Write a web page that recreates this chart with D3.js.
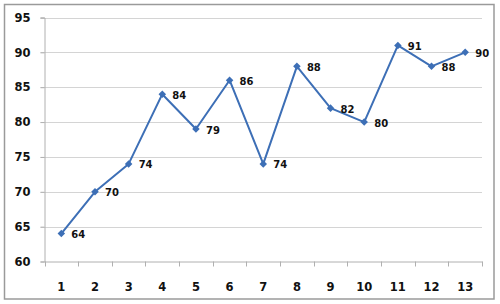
<!DOCTYPE html>
<html>
<head>
<meta charset="utf-8">
<script src="https://cdn.jsdelivr.net/npm/d3@7"></script>
<style>
  html, body { margin: 0; padding: 0; background: #fff; }
  svg { display: block; }
</style>
</head>
<body>
<svg id="chart" width="500" height="304"></svg>
<script>
const categories = ["1","2","3","4","5","6","7","8","9","10","11","12","13"];
const values = [64, 70, 74, 84, 79, 86, 74, 88, 82, 80, 91, 88, 90];
const yTicks = [60, 65, 70, 75, 80, 85, 90, 95];

const svg = d3.select("#chart");
const plotLeft = 44.5, plotRight = 482, plotTop = 17.5, plotBottom = 261.5;

// outer border
svg.append("rect")
  .attr("x", 4.5).attr("y", 4.5)
  .attr("width", 489.5).attr("height", 294.5)
  .attr("fill", "#fff")
  .attr("stroke", "#9a9a9a")
  .attr("stroke-width", 1.5);

const x = d3.scaleBand().domain(categories).range([plotLeft, plotRight]).paddingInner(0).paddingOuter(0);
const y = d3.scaleLinear().domain([60, 95]).range([plotBottom, plotTop]);

// gridlines
svg.append("g").selectAll("line").data(yTicks.filter(d => d !== 60)).join("line")
  .attr("x1", plotLeft - 4).attr("x2", plotRight)
  .attr("y1", d => Math.round(y(d)) + 0.5).attr("y2", d => Math.round(y(d)) + 0.5)
  .attr("stroke", "#d4d4d4").attr("stroke-width", 1);

// y axis
const yAxis = d3.axisLeft(y).tickValues(yTicks).tickSize(4).tickPadding(10);
const gy = svg.append("g").attr("transform", `translate(${plotLeft},0)`).call(yAxis);
gy.select(".domain").attr("stroke", "#b0b0b0");
gy.selectAll(".tick line").attr("stroke", "#b0b0b0");
gy.selectAll(".tick text")
  .attr("font-family", "DejaVu Sans, Verdana, sans-serif")
  .attr("font-weight", "bold")
  .attr("font-size", "11.5px")
  .attr("fill", "#111");

// x axis
const xAxis = d3.axisBottom(x).tickSize(0).tickPadding(21);
const gx = svg.append("g").attr("transform", `translate(0,${plotBottom})`).call(xAxis);
gx.select(".domain").attr("stroke", "#b0b0b0");
gx.selectAll(".tick text")
  .attr("font-family", "DejaVu Sans, Verdana, sans-serif")
  .attr("font-weight", "bold")
  .attr("font-size", "11.5px")
  .attr("fill", "#111");
// tick marks at band boundaries
const edges = categories.map(c => x(c)).concat([x(categories[categories.length-1]) + x.bandwidth()]);
svg.append("g").selectAll("line").data(edges).join("line")
  .attr("x1", d => Math.round(d) + 0.5).attr("x2", d => Math.round(d) + 0.5)
  .attr("y1", plotBottom).attr("y2", plotBottom + 5)
  .attr("stroke", "#b0b0b0");

const cx = (d, i) => x(categories[i]) + x.bandwidth() / 2;
const color = "#3d6fb6";

// line
svg.append("path")
  .datum(values)
  .attr("fill", "none")
  .attr("stroke", color)
  .attr("stroke-width", 2)
  .attr("stroke-linejoin", "round")
  .attr("d", d3.line().x((d, i) => cx(d, i)).y(d => y(d)));

// markers
svg.append("g").selectAll("path").data(values).join("path")
  .attr("transform", (d, i) => `translate(${cx(d, i)},${y(d)})`)
  .attr("d", d3.symbol(d3.symbolDiamond2, 36)())
  .attr("fill", color);

// data labels
svg.append("g").selectAll("text").data(values).join("text")
  .attr("x", (d, i) => cx(d, i) + 10)
  .attr("y", d => y(d) + 4.5)
  .attr("font-family", "DejaVu Sans, Verdana, sans-serif")
  .attr("font-weight", "bold")
  .attr("font-size", "10px")
  .attr("fill", "#111")
  .text(d => d);
</script>
</body>
</html>
